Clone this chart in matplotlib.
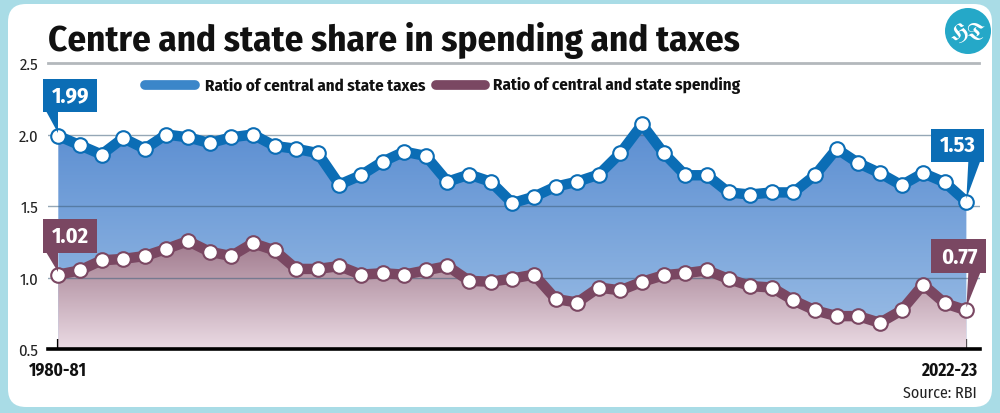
import numpy as np
import matplotlib
matplotlib.use('Agg')
import matplotlib.pyplot as plt
from matplotlib import font_manager as fm
from matplotlib.colors import LinearSegmentedColormap
from matplotlib.patches import FancyBboxPatch, Polygon, Circle
from matplotlib.transforms import IdentityTransform, blended_transform_factory

# data (1980-81 .. 2022-23)
years = ['1980-81', '2022-23']
taxes_ratio = [1.99, 1.925, 1.86, 1.975, 1.90, 2.0, 1.98, 1.94, 1.98, 2.0, 1.92,
               1.90, 1.87, 1.65, 1.715, 1.81, 1.88, 1.85, 1.67, 1.72, 1.67, 1.52,
               1.565, 1.635, 1.67, 1.72, 1.87, 2.07, 1.87, 1.715, 1.715, 1.595,
               1.58, 1.595, 1.595, 1.715, 1.90, 1.80, 1.73, 1.645, 1.73, 1.665, 1.53]
spend_ratio = [1.02, 1.05, 1.12, 1.13, 1.15, 1.20, 1.255, 1.18, 1.15, 1.24, 1.19,
               1.06, 1.06, 1.08, 1.02, 1.03, 1.02, 1.05, 1.08, 0.977, 0.97, 0.993,
               1.02, 0.85, 0.825, 0.93, 0.91, 0.97, 1.016, 1.03, 1.05, 0.99, 0.94,
               0.93, 0.84, 0.77, 0.73, 0.73, 0.683, 0.77, 0.95, 0.82, 0.77]
yticks = [0.5, 1.0, 1.5, 2.0, 2.5]

BLUE = '#0b6db5'
MAROON = '#7a4762'
FRAME = '#a9dce6'

installed = {f.name for f in fm.fontManager.ttflist}
narrow = next((n for n in ['Fira Sans Condensed', 'PT Sans Narrow', 'Roboto Condensed',
                           'Archivo Narrow', 'Liberation Sans Narrow'] if n in installed),
              'Liberation Sans')
NARROW = [narrow, 'DejaVu Sans']
logo_font = next((n for n in ['UnifrakturMaguntia', 'UnifrakturCook'] if n in installed),
                 'DejaVu Serif')

fig = plt.figure(figsize=(10, 4.14), dpi=100)
fig.patch.set_facecolor(FRAME)
W, H = 1000, 414


def px(x, y):
    # figure fraction from pixel position (y measured from top)
    return x / W, 1 - y / H


panel = FancyBboxPatch(px(8, 408), (992 - 8) / W, (408 - 5) / H,
                       boxstyle='round,pad=0,rounding_size=0.018',
                       transform=fig.transFigure, facecolor='white',
                       edgecolor='none', mutation_aspect=W / H, zorder=-5)
fig.patches.append(panel)

ax = fig.add_axes([48 / W, 1 - 350 / H, (980 - 48) / W, (350 - 64) / H])
ax.patch.set_alpha(0)
x = np.arange(len(taxes_ratio))


def grad_fill(yv, c_top, c_bot, top, z):
    poly = ax.fill_between(x, yv, 0.5, color='none', lw=0)
    cmap = LinearSegmentedColormap.from_list('g', [c_bot, c_top])
    img = ax.imshow(np.linspace(0, 1, 256).reshape(-1, 1), cmap=cmap, aspect='auto',
                    extent=[x[0], x[-1], 0.5, top], origin='lower', zorder=z)
    img.set_clip_path(poly.get_paths()[0], transform=ax.transData)


grad_fill(taxes_ratio, '#5a8dd1', '#9dbfe6', 2.1, 1)
grad_fill(spend_ratio, '#a07a8d', '#ebdbe4', 1.25, 2)

ax.set_xlim(-0.476, 42.63)
ax.set_ylim(0.5, 2.5)

for v in yticks[1:-1]:
    ax.axhline(v, color='#3f5f7a', lw=1.0, alpha=0.55, zorder=3, xmax=0.9985)
ax.axhline(2.5, color='#b3b8bc', lw=2, zorder=3, xmax=0.9985, clip_on=False)

ax.plot(x, taxes_ratio, color=BLUE, lw=7.5, zorder=5, solid_joinstyle='round')
ax.plot(x, taxes_ratio, 'o', ms=10.5, mfc='white', mec=BLUE, mew=1.5, zorder=6)
ax.plot(x, spend_ratio, color=MAROON, lw=7.5, zorder=5, solid_joinstyle='round')
ax.plot(x, spend_ratio, 'o', ms=10.5, mfc='white', mec=MAROON, mew=1.5, zorder=6)

for s in ['top', 'right', 'left']:
    ax.spines[s].set_visible(False)
ax.spines['bottom'].set_linewidth(2.6)
ax.spines['bottom'].set_zorder(7)
ax.set_xticks(x)
ax.set_xticklabels([])
ax.tick_params(axis='x', direction='in', length=7, width=1.6, color='black')
ax.set_yticks(yticks)
ax.set_yticklabels([f'{v:.1f}' for v in yticks], family=NARROW, fontsize=12,
                   color='#222222')
ax.tick_params(axis='y', length=0, pad=7)

# year labels and source
tr = blended_transform_factory(ax.transData, fig.transFigure)
ax.text(x[0], px(0, 371)[1], years[0], transform=tr, ha='center', va='center',
        family=NARROW, fontsize=12.5, fontweight='bold', color='#111111')
fig.text(px(977, 0)[0], px(0, 371)[1], years[1], ha='right', va='center',
         family=NARROW, fontsize=12.5, fontweight='bold', color='#111111')
fig.text(px(977, 0)[0], px(0, 393)[1], 'Source: RBI', ha='right', va='center',
         family=NARROW, fontsize=11.5, color='#222222')

# title
fig.text(px(48, 0)[0], px(0, 51)[1], 'Centre and state share in spending and taxes',
         ha='left', va='baseline', family=NARROW, fontsize=26.6, fontweight='bold',
         color='#111111')

# HT logo
fig.add_artist(Circle((968, H - 32), 23, transform=IdentityTransform(),
                      facecolor='#25a8c8', edgecolor='none', zorder=1))
fig.text(*px(968, 33), 'HT', ha='center', va='center', family=logo_font,
         fontsize=17, fontweight='bold', color='white', zorder=2)

# legend
for x0, x1, xt, col, lab in [(145, 195, 205, '#3b86c9', 'Ratio of central and state taxes'),
                             (436, 485, 493, MAROON, 'Ratio of central and state spending')]:
    fig.add_artist(plt.Line2D([x0 / W, x1 / W], [px(0, 86)[1]] * 2, color=col, lw=7,
                              solid_capstyle='round', transform=fig.transFigure))
    fig.text(xt / W, px(0, 86)[1], lab, ha='left', va='center', family=NARROW,
             fontsize=12.2, fontweight='bold', color='#111111')

# value callouts
fig.canvas.draw()


def callout(i, yv, col, box, tail):
    pxp, pyp = ax.transData.transform((x[i], yv))
    bx0, bx1, by0, by1 = box
    rect = Polygon([(pxp + bx0, pyp + by0), (pxp + bx1, pyp + by0),
                    (pxp + bx1, pyp + by1), (pxp + bx0, pyp + by1)],
                   closed=True, transform=IdentityTransform(), facecolor=col,
                   edgecolor='none', zorder=8)
    fig.add_artist(rect)
    t0, t1 = tail
    tri = Polygon([(pxp + t0, pyp + by0 + 1), (pxp + t1, pyp + by0 + 1), (pxp, pyp + 3)],
                  closed=True, transform=IdentityTransform(), facecolor=col,
                  edgecolor='none', zorder=8)
    fig.add_artist(tri)
    fig.text((pxp + (bx0 + bx1) / 2) / W, (pyp + (by0 + by1) / 2) / H, f'{yv:.2f}',
             ha='center', va='center', family=NARROW, fontsize=16,
             fontweight='bold', color='white', zorder=9)


callout(0, taxes_ratio[0], BLUE, (-15, 39, 24, 57), (-12, 0))
callout(0, spend_ratio[0], MAROON, (-15, 39, 22, 56), (-12, 0))
callout(len(x) - 1, taxes_ratio[-1], BLUE, (-35, 18, 40, 73), (2, 14))
callout(len(x) - 1, spend_ratio[-1], MAROON, (-35, 20, 37, 71), (2, 14))

fig.savefig('out.png', dpi=100, facecolor=fig.get_facecolor())
